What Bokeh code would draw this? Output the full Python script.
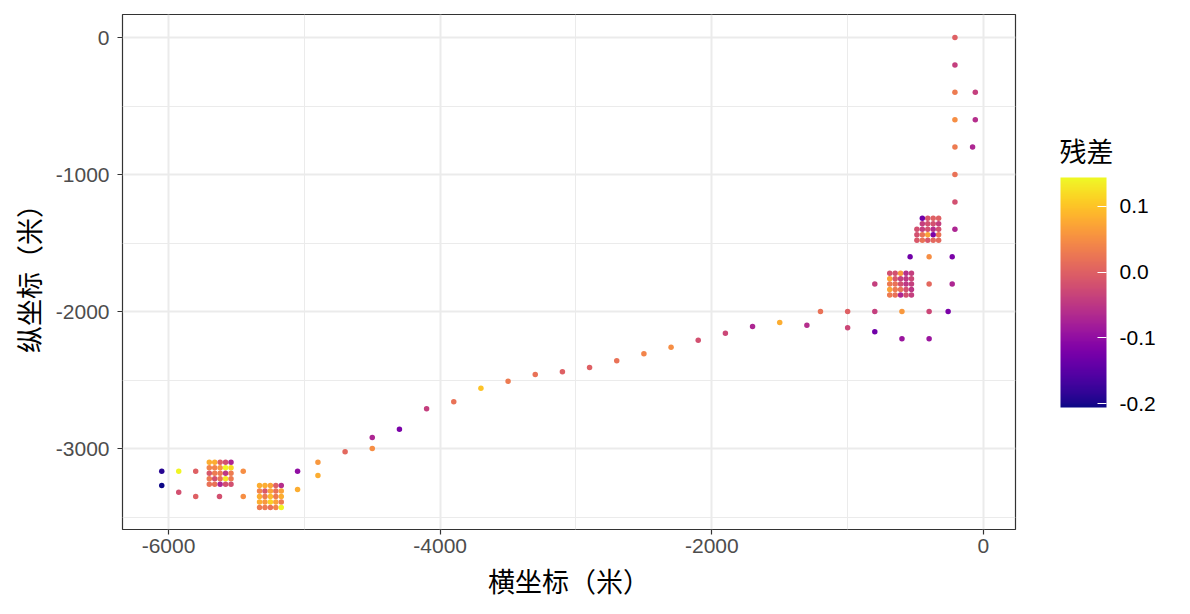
from bokeh.plotting import figure
from bokeh.models import (ColumnDataSource, LinearColorMapper, ColorBar, FixedTicker,
                          CustomJSTickFormatter, Label)
from bokeh.palettes import Plasma256
from bokeh.embed import file_html
from bokeh.resources import INLINE

# ---- scattered / path points (x, y in metres, residual) ----
path_x = [-6050, -6050, -5925, -5925, -5800, -5800, -5625, -5450, -5450, -5050, -5050,
          -4900, -4900, -4700, -4500, -4500, -4300, -4100, -3900, -3700, -3500, -3300,
          -3100, -2900, -2700, -2500, -2300, -2100, -1900, -1700, -1500, -1300, -1200,
          -1000, -1000, -800, -800, -800, -600, -600, -400, -400, -400, -400, -540,
          -230, -230, -260, -210, -210, -210, -210, -80, -210, -60, -210, -60, -210, -210]
path_y = [-3166, -3270, -3166, -3319, -3166, -3350, -3350, -3166, -3350, -3166, -3299,
          -3100, -3197, -3024, -2920, -3000, -2859, -2710, -2659, -2560, -2509, -2460,
          -2440, -2409, -2360, -2309, -2260, -2209, -2158, -2109, -2080, -2100, -2000,
          -2000, -2119, -2000, -2148, -1800, -2000, -2199, -2199, -2000, -1800, -1600, -1600,
          -1600, -1800, -2000, -1400, -1200, -1000, -800, -800, -600, -600, -400, -400, -200, 0]
path_res = [-0.19, -0.205, 0.14, -0.02, 0.0, 0.0, -0.02, 0.05, 0.05, -0.10, 0.08,
            0.06, 0.08, 0.01, -0.07, 0.05, -0.12, -0.04, 0.02, 0.10, 0.03, 0.02,
            0.0, 0.0, 0.02, 0.04, 0.05, -0.02, -0.03, -0.07, 0.08, -0.06, 0.02,
            0.0, -0.03, -0.04, -0.13, -0.04, 0.06, -0.09, -0.09, -0.03, 0.01, 0.05, -0.13,
            -0.12, -0.07, -0.12, -0.07, -0.02, 0.02, 0.03, -0.07, 0.05, -0.06, 0.03, -0.04, -0.04, 0.0]

# ---- dense sampling grids (column x, row y, residual matrix rows top->bottom) ----
c1_cols = [-5700, -5660, -5620, -5580, -5540]
c1_rows = [-3100, -3140, -3180, -3220, -3260]
c1_res = [[0.08, 0.08, 0.0, -0.02, -0.07],
          [0.04, 0.04, 0.06, 0.14, 0.12],
          [-0.01, 0.03, 0.03, -0.05, 0.03],
          [0.03, -0.02, 0.02, 0.13, 0.03],
          [0.02, 0.02, -0.07, -0.02, -0.02]]

c2_cols = [-5330, -5290, -5250, -5210, -5170]
c2_rows = [-3270, -3310, -3350, -3390, -3430]
c2_res = [[0.08, 0.08, 0.07, 0.0, -0.06],
          [0.04, -0.01, 0.07, 0.02, 0.07],
          [0.08, 0.03, 0.09, 0.03, 0.08],
          [0.08, 0.06, 0.11, 0.07, 0.03],
          [0.03, 0.03, 0.02, 0.04, 0.14]]

c3_cols = [-490, -450, -410, -370, -330]
c3_rows = [-1320, -1360, -1400, -1440, -1480]
c3_res = [[None, -0.13, -0.01, 0.0, 0.0],
          [None, -0.04, -0.02, -0.02, -0.04],
          [-0.02, -0.04, -0.02, -0.06, -0.02],
          [-0.02, 0.02, 0.07, -0.12, 0.02],
          [-0.01, 0.02, -0.01, 0.01, 0.01]]

c4_cols = [-690, -650, -610, -570, -530]
c4_rows = [-1720, -1760, -1800, -1840, -1880]
c4_res = [[-0.02, -0.02, 0.06, -0.06, -0.04],
          [0.07, -0.01, -0.04, -0.05, -0.03],
          [0.03, 0.02, -0.02, -0.05, -0.04],
          [0.07, 0.03, 0.02, -0.02, -0.05],
          [0.03, 0.02, -0.07, -0.02, -0.04]]

x_ticks = [-6000, -4000, -2000, 0]
x_minor = [-5000, -3000, -1000]
y_ticks = [-3000, -2000, -1000, 0]
y_minor = [-3500, -2500, -1500, -500]
cb_ticks = [-0.2, -0.1, 0.0, 0.1]
res_low, res_high = -0.206, 0.144
legend_title = "残差"
cjk_font = "Noto Sans CJK TC"

# build table
xs, ys, rs = list(path_x), list(path_y), list(path_res)
for cols, rows, mat in [(c1_cols, c1_rows, c1_res), (c2_cols, c2_rows, c2_res),
                        (c3_cols, c3_rows, c3_res), (c4_cols, c4_rows, c4_res)]:
    for yi, row in zip(rows, mat):
        for xi, r in zip(cols, row):
            if r is not None:
                xs.append(xi); ys.append(yi); rs.append(r)
src = ColumnDataSource(dict(x=xs, y=ys, r=rs))

mapper = LinearColorMapper(palette=Plasma256, low=res_low, high=res_high)

p = figure(frame_width=893, frame_height=515, x_range=(-6339, 236), y_range=(-3591, 168),
           output_backend="svg", toolbar_location=None,
           min_border_left=122, min_border_top=14, min_border_right=159, min_border_bottom=69,
           background_fill_color="white", border_fill_color="white")

p.scatter("x", "y", source=src, size=5.5, line_color=None,
          fill_color={"field": "r", "transform": mapper})

p.outline_line_color = "#333333"
p.outline_line_width = 1.2

int_fmt = CustomJSTickFormatter(code="return tick.toFixed(0);")
for ax, ticks, minor in [(p.xaxis[0], x_ticks, x_minor), (p.yaxis[0], y_ticks, y_minor)]:
    ax.ticker = FixedTicker(ticks=ticks, minor_ticks=minor)
    ax.formatter = int_fmt
    ax.axis_line_color = None
    ax.major_tick_line_color = "#333333"
    ax.major_tick_line_width = 1.2
    ax.major_tick_out = 5
    ax.major_tick_in = 0
    ax.minor_tick_line_color = None
    ax.major_label_text_font = "Liberation Sans"
    ax.major_label_text_font_size = "21px"
    ax.major_label_text_color = "#4D4D4D"
    ax.axis_label_text_font = cjk_font
    ax.axis_label_text_font_size = "27px"
    ax.axis_label_text_font_style = "normal"
    ax.axis_label_text_color = "black"

p.xaxis[0].axis_label = "横坐标（米）"
p.yaxis[0].axis_label = "纵坐标（米）"
p.xaxis[0].major_label_standoff = 4
p.yaxis[0].major_label_standoff = 8
p.xaxis[0].axis_label_standoff = 5
p.yaxis[0].axis_label_standoff = 5

for g, ticks, minor in [(p.xgrid[0], x_ticks, x_minor), (p.ygrid[0], y_ticks, y_minor)]:
    g.ticker = FixedTicker(ticks=ticks, minor_ticks=minor)
    g.grid_line_color = "#EBEBEB"
    g.grid_line_width = 2
    g.minor_grid_line_color = "#EBEBEB"
    g.minor_grid_line_width = 1

cb = ColorBar(color_mapper=mapper, ticker=FixedTicker(ticks=cb_ticks),
              formatter=CustomJSTickFormatter(code="return tick.toFixed(1);"),
              width=46, height=230, padding=0, margin=0,
              location=(938, 122),
              major_tick_line_color="white", major_tick_in=9, major_tick_out=0,
              major_tick_line_width=1.2,
              minor_tick_line_color=None, bar_line_color=None, border_line_color=None,
              background_fill_color=None,
              major_label_text_font="Liberation Sans", major_label_text_font_size="21px",
              major_label_text_color="black", label_standoff=13)
p.add_layout(cb, "center")

p.add_layout(Label(x=44, y=379, x_units="screen", y_units="screen", text=legend_title,
                   text_font=cjk_font, text_font_size="27px", text_color="black",
                   text_baseline="middle", text_align="left"), "right")

open("out.html", "w").write(file_html(p, INLINE))
